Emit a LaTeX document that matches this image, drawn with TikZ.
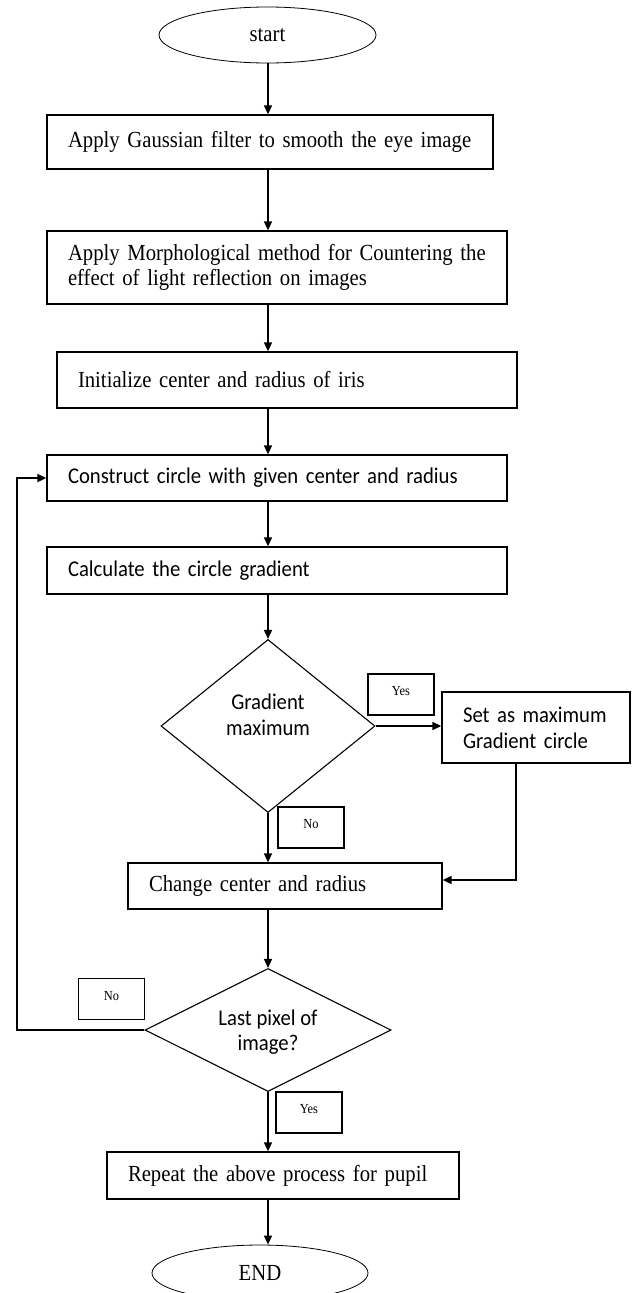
\documentclass[tikz,border=0pt]{standalone}
\usepackage{fontspec}
\setmainfont{Liberation Serif}[FakeStretch=0.9]
\setsansfont{Carlito}[FakeStretch=0.92]
\usetikzlibrary{shapes.geometric,arrows.meta}
\newcommand{\pad}{\hspace*{21pt}}
\begin{document}
\begin{tikzpicture}[x=1pt,y=-1pt,
  base/.style={draw, line width=1.3pt, inner sep=0pt, align=left},
  serifbox/.style={base, font=\fontsize{23pt}{25pt}\selectfont},
  sansbox/.style={base, font=\sffamily\fontsize{22.5pt}{26pt}\selectfont},
  term/.style={draw, ellipse, line width=0.8pt, inner sep=0pt, minimum width=217pt, minimum height=56pt, font=\fontsize{23pt}{25pt}\selectfont},
  decide/.style={draw, diamond, line width=1.1pt, inner sep=0pt},
  dtext/.style={align=center, inner sep=0pt, font=\sffamily\fontsize{22.5pt}{25.5pt}\selectfont},
  tag/.style={draw, line width=1.3pt, inner sep=0pt, minimum width=66pt, minimum height=41pt, text depth=7pt, font=\fontsize{13.8pt}{15pt}\selectfont},
  arr/.style={line width=1.6pt, -{Triangle[length=9pt,width=8pt]}}
]
\useasboundingbox (0,0) rectangle (632,1293);
\clip (0,0) rectangle (632,1293);

\coordinate (ax) at (268,0);
\coordinate (lx) at (17,0);
\coordinate (sx) at (516,0);

\node[term] (start) at (267.5,35) {start};
\node[serifbox, text width=446pt, minimum height=54pt] (gauss) at (270,142) {\pad Apply Gaussian filter to smooth the eye image};
\node[serifbox, text width=460pt, minimum height=73pt] (morph) at (277,267.5) {\pad Apply Morphological method for Countering the\\\pad effect of light reflection on images};
\node[serifbox, text width=460pt, minimum height=56pt] (init) at (287,380) {\pad Initialize center and radius of iris};
\node[sansbox, text width=460pt, minimum height=46pt] (constr) at (277,478) {\pad Construct circle with given center and radius};
\node[sansbox, text width=460pt, minimum height=47pt] (calc) at (277,570.5) {\pad Calculate the circle gradient};

\node[decide, minimum width=214pt, minimum height=173pt] (d1) at (268,726) {};
\node[dtext] (d1t) at (268,715) {Gradient\\maximum};
\node[tag] (yes1) at (401,694.5) {Yes};
\node[sansbox, text width=188pt, minimum height=71pt] (setas) at (536,727.5) {\pad Set as maximum\\\pad Gradient circle};
\node[tag] (no1) at (311,827.5) {No};

\node[serifbox, text width=314pt, minimum height=46pt] (chg) at (285,886) {\pad Change center and radius};

\node[decide, minimum width=246pt, minimum height=123pt] (d2) at (268,1030) {};
\node[dtext] (d2t) at (268,1032) {Last pixel of\\image?};
\node[tag] (no2) at (111.5,999) {No};
\node[tag] (yes2) at (309,1112.5) {Yes};

\node[serifbox, text width=352pt, minimum height=47pt] (rep) at (283,1175.5) {\pad Repeat the above process for pupil};
\node[term, minimum width=216pt] (end) at (260,1273) {END};

% main flow
\draw[arr] (start.south -| ax) -- (gauss.north -| ax);
\draw[arr] (gauss.south -| ax) -- (morph.north -| ax);
\draw[arr] (morph.south -| ax) -- (init.north -| ax);
\draw[arr] (init.south -| ax) -- (constr.north -| ax);
\draw[arr] (constr.south -| ax) -- (calc.north -| ax);
\draw[arr] (calc.south -| ax) -- (d1.north);
\draw[arr] (d1.east) -- (setas.west |- d1.east);
\draw[arr] (d1.south) -- (chg.north -| ax);
\draw[arr] (setas.south -| sx) |- ([yshift=6pt]chg.east);
\draw[arr] (chg.south -| ax) -- (d2.north);
\draw[arr] (d2.west) -- (d2.west -| lx) |- (constr.west);
\draw[arr] (d2.south) -- (rep.north -| ax);
\draw[arr] (rep.south -| ax) -- (end.north -| ax);
\end{tikzpicture}
\end{document}
